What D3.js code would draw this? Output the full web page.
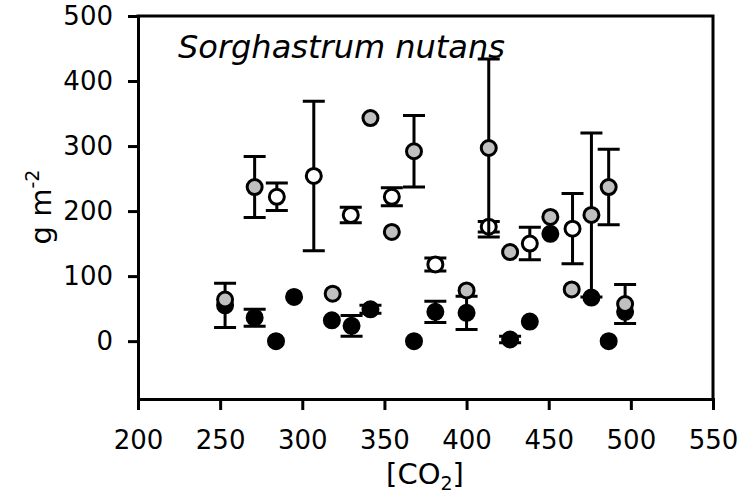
<!DOCTYPE html>
<html>
<head>
<meta charset="utf-8">
<script src="https://cdn.jsdelivr.net/npm/d3@7"></script>
<style>
  html, body { margin: 0; padding: 0; background: #fff; }
  svg { display: block; }
  text { font-family: "DejaVu Sans", Verdana, sans-serif; fill: #000; }
</style>
</head>
<body>
<svg id="chart" width="745" height="496"></svg>
<script>
// ---- data ----
const xTicks = [200, 250, 300, 350, 400, 450, 500, 550];
const yTicks = [0, 100, 200, 300, 400, 500];

const blackCO2  = [253, 271, 284, 295, 318, 330, 341.5, 368, 381, 400, 426.5, 438.5, 451, 476, 486.5, 496.5];
const blackMass = [55, 36, 0, 68, 32, 23.5, 49, 0, 45, 43.5, 2.5, 30, 165, 67, 0, 45];
const blackErr  = [34, 13, 0, 0, 0, 16, 6, 0, 16.5, 25.5, 5, 0, 0, 0, 0, 0];

const grayCO2  = [253, 271, 318.5, 341.5, 354.5, 368, 400, 413.5, 426.5, 451, 464, 476, 486.5, 496.5];
const grayMass = [64, 237, 73, 343, 168, 292, 78, 297, 137, 191, 79.5, 194, 237, 57];
const grayErr  = [0, 47, 0, 0, 0, 55, 0, 137, 0, 0, 0, 126, 58, 30];

const whiteCO2  = [284.5, 307, 329.5, 354.5, 381, 413.5, 438.5, 464.5];
const whiteMass = [222, 254, 194, 222, 118, 176, 150, 173];
const whiteErr  = [21, 115, 12, 14, 10, 8, 25, 54];

const titleText = "Sorghastrum nutans";

// ---- layout ----
const svg = d3.select("#chart");
const pL = 138, pR = 713, pT = 16, pB = 399;
const x = d3.scaleLinear().domain([200, 550]).range([pL, pR]);
const y = d3.scaleLinear().domain([-89, 500]).range([pB, pT]);

// frame top/right
svg.append("path")
  .attr("d", `M${pL},${pT}H${pR}V${pB}`)
  .attr("fill", "none").attr("stroke", "#000").attr("stroke-width", 3)
  .attr("stroke-linecap", "square");

// axes
const gx = svg.append("g").attr("transform", `translate(0,${pB})`)
  .call(d3.axisBottom(x).tickValues(xTicks).tickSize(11).tickSizeOuter(0).tickPadding(21));
const gy = svg.append("g").attr("transform", `translate(${pL},0)`)
  .call(d3.axisLeft(y).tickValues(yTicks).tickSize(10).tickSizeOuter(0).tickPadding(15));
[gx, gy].forEach(g => {
  g.select(".domain").attr("stroke-width", 3).attr("stroke", "#000").attr("stroke-linecap", "square");
  g.selectAll(".tick line").attr("stroke-width", 3).attr("stroke", "#000");
  g.selectAll(".tick text").style("font-family", "DejaVu Sans, Verdana, sans-serif")
    .style("font-size", "26px").attr("fill", "#000");
});

// series
function drawSeries(co2, mass, err, fill) {
  const data = co2.map((c, i) => ({c, m: mass[i], e: err[i]}));
  const g = svg.append("g");
  const eb = data.filter(d => d.e > 0);
  const cap = 11;
  g.selectAll("path.eb").data(eb).enter().append("path")
    .attr("d", d => {
      const cx = x(d.c), y1 = y(d.m + d.e), y0 = y(d.m - d.e);
      return `M${cx},${y1}V${y0}M${cx - cap},${y1}H${cx + cap}M${cx - cap},${y0}H${cx + cap}`;
    })
    .attr("fill", "none").attr("stroke", "#000").attr("stroke-width", 3);
  g.selectAll("circle").data(data).enter().append("circle")
    .attr("cx", d => x(d.c)).attr("cy", d => y(d.m)).attr("r", 7.5)
    .attr("fill", fill).attr("stroke", "#000").attr("stroke-width", 3);
}
drawSeries(whiteCO2, whiteMass, whiteErr, "#ffffff");
drawSeries(blackCO2, blackMass, blackErr, "#000000");
drawSeries(grayCO2, grayMass, grayErr, "#c0c0c0");

// title
svg.append("text").attr("x", 178).attr("y", 58)
  .style("font-size", "32px").style("font-style", "italic").text(titleText);

// x label
const xl = svg.append("text").attr("x", 425).attr("y", 484)
  .attr("text-anchor", "middle").style("font-size", "29px");
xl.append("tspan").text("[CO");
xl.append("tspan").attr("dy", 6).style("font-size", "19px").text("2");
xl.append("tspan").attr("dy", -6).text("]");

// y label
const yl = svg.append("text")
  .attr("transform", `translate(51,207) rotate(-90)`)
  .attr("text-anchor", "middle").style("font-size", "29px");
yl.append("tspan").text("g m");
yl.append("tspan").attr("dy", -12).style("font-size", "19px").text("-2");
</script>
</body>
</html>
